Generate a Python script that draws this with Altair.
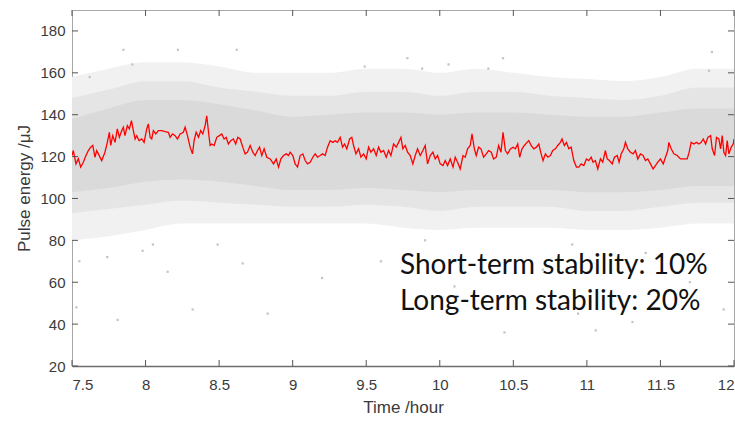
import altair as alt
import pandas as pd

# ---- red moving-average line (time in hours, pulse energy in uJ) ----
line_t = [7.500, 7.509, 7.527, 7.543, 7.559, 7.577, 7.595, 7.611, 7.627, 7.641, 7.656, 7.668, 7.679, 7.702,
          7.724, 7.740, 7.754, 7.763, 7.777, 7.793, 7.808, 7.822, 7.838, 7.849, 7.860, 7.876, 7.890, 7.904,
          7.917, 7.929, 7.940, 7.956, 7.974, 7.990, 8.008, 8.019, 8.031, 8.042, 8.053, 8.069, 8.087, 8.110,
          8.133, 8.155, 8.167, 8.183, 8.201, 8.217, 8.235, 8.257, 8.269, 8.285, 8.303, 8.319, 8.330, 8.344,
          8.360, 8.375, 8.389, 8.405, 8.416, 8.428, 8.439, 8.450, 8.466, 8.484, 8.502, 8.518, 8.534, 8.548,
          8.563, 8.579, 8.597, 8.613, 8.627, 8.643, 8.661, 8.677, 8.693, 8.711, 8.729, 8.745, 8.761, 8.775,
          8.790, 8.806, 8.824, 8.847, 8.870, 8.888, 8.904, 8.920, 8.938, 8.956, 8.972, 8.983,
          9.001, 9.017, 9.033, 9.051, 9.069, 9.085, 9.101, 9.119, 9.137, 9.153, 9.169, 9.187, 9.203, 9.221,
          9.237, 9.255, 9.273, 9.289, 9.305, 9.323, 9.339, 9.353, 9.368, 9.387, 9.402, 9.414, 9.430, 9.448,
          9.464, 9.482, 9.500, 9.516, 9.532, 9.550, 9.568, 9.584, 9.600, 9.618, 9.636, 9.652, 9.668, 9.686,
          9.704, 9.720, 9.736, 9.749, 9.765, 9.781, 9.799, 9.817, 9.833, 9.849, 9.867, 9.885, 9.901, 9.917,
          9.935, 9.953, 9.969, 9.985, 10.003, 10.022, 10.037, 10.053, 10.071, 10.090, 10.105, 10.121, 10.139,
          10.158, 10.173, 10.189, 10.207, 10.219, 10.235, 10.248, 10.264, 10.280, 10.298, 10.316, 10.332,
          10.350, 10.366, 10.384, 10.400, 10.416, 10.430, 10.446, 10.461, 10.480,
          10.498, 10.514, 10.530, 10.543, 10.559, 10.575, 10.593, 10.605, 10.621, 10.639, 10.657, 10.673,
          10.689, 10.702, 10.718, 10.734, 10.752, 10.768, 10.786, 10.802, 10.820, 10.831, 10.847, 10.861,
          10.877, 10.893, 10.911, 10.929, 10.945, 10.961, 10.979, 10.997, 11.013, 11.029, 11.042, 11.058,
          11.074, 11.092, 11.108, 11.126, 11.138, 11.153, 11.172, 11.187, 11.206, 11.219, 11.233, 11.251,
          11.262, 11.278, 11.296, 11.314, 11.330, 11.346, 11.364, 11.382, 11.398, 11.414, 11.432, 11.450,
          11.466, 11.482, 11.500, 11.519, 11.534, 11.550, 11.557, 11.573, 11.591, 11.614, 11.636, 11.659,
          11.682, 11.695, 11.709, 11.727, 11.745, 11.761, 11.777, 11.791, 11.807, 11.822, 11.841, 11.852,
          11.868, 11.881, 11.897, 11.909, 11.920, 11.931, 11.943, 11.954, 11.965, 11.981, 11.995, 12.000]
line_e = [120.5, 122.9, 116.5, 119.0, 115.0, 117.3, 120.5, 122.9, 124.5, 125.3, 119.7, 122.9, 121.3, 118.1,
          122.1, 126.8, 131.6, 125.3, 130.0, 126.8, 133.2, 129.2, 132.4, 134.0, 130.0, 134.8, 133.2, 137.2,
          132.4, 128.4, 130.0, 127.6, 128.4, 126.8, 133.2, 135.6, 129.2, 128.4, 132.4, 130.8, 132.4, 132.4,
          131.9, 131.6, 129.2, 130.8, 130.0, 128.4, 130.8, 131.6, 134.0, 130.0, 124.5, 121.3, 127.6, 131.6,
          129.2, 132.4, 130.8, 134.8, 139.5, 131.6, 125.3, 126.0, 125.3, 129.2, 130.0, 130.8, 128.4, 129.2,
          126.0, 127.6, 128.4, 126.0, 129.2, 128.4, 124.5, 121.3, 122.1, 125.3, 122.1, 120.5, 122.9, 124.5,
          120.5, 123.7, 119.7, 118.9, 116.5, 118.9, 115.0, 118.9, 120.5, 121.3, 120.5, 122.1,
          120.5, 116.5, 115.0, 120.5, 121.3, 118.1, 116.5, 117.3, 119.7, 121.3, 119.7, 120.5, 121.3, 120.5,
          124.5, 127.6, 126.8, 127.6, 126.8, 129.2, 124.5, 126.0, 123.7, 128.4, 129.2, 125.3, 121.3, 123.7,
          119.7, 121.3, 118.9, 124.5, 122.1, 123.7, 120.5, 124.5, 122.1, 122.9, 119.7, 122.9, 120.5, 126.0,
          124.5, 126.8, 129.2, 123.7, 125.3, 122.1, 120.5, 116.5, 120.5, 123.7, 120.5, 122.9, 125.3, 116.5,
          120.5, 122.1, 118.9, 120.5, 116.5, 115.7, 118.1, 115.7, 118.9, 115.0, 119.7, 117.3, 114.1,
          120.5, 119.7, 123.7, 125.3, 130.8, 123.7, 120.5, 124.5, 123.7, 119.7, 121.3, 122.9,
          122.1, 118.9, 119.7, 125.3, 122.1, 131.6, 122.9, 121.3, 123.7,
          124.5, 123.7, 126.0, 119.7, 123.7, 125.3, 126.8, 127.6, 125.3, 123.7, 124.5, 126.0,
          121.3, 118.1, 121.3, 119.7, 120.5, 122.9, 123.7, 125.3, 126.8, 128.4, 125.3, 126.8,
          123.7, 124.5, 118.1, 115.0, 115.0, 116.5, 115.7, 118.9, 118.1, 119.7, 117.3, 118.1,
          114.1, 118.9, 117.3, 122.9, 118.9, 118.1, 116.5, 119.7, 120.5, 117.3, 121.3, 123.7,
          126.8, 123.7, 122.1, 121.3, 122.9, 118.9, 121.3, 120.5, 118.1, 118.9, 116.5, 114.1,
          115.7, 117.3, 118.9, 116.5, 119.7, 122.9, 126.8, 123.7, 121.3, 120.5, 118.9, 118.9,
          118.9, 122.1, 126.8, 126.0, 126.8, 126.0, 126.8, 128.4, 126.0, 129.2, 130.0, 123.7,
          120.5, 129.2, 128.4, 123.7, 130.0, 122.1, 120.5, 127.6, 121.3, 124.5, 126.0, 128.4]

# ---- grey shot-to-shot cloud: envelopes of the sparse halo, the mid zone and the dense core ----
band_t = [7.5, 7.75, 8.0, 8.25, 8.5, 8.75, 9.0, 9.25, 9.5, 9.75, 10.0, 10.25, 10.5, 10.75, 11.0, 11.25, 11.5, 11.75, 12.0]
halo_lo = [80, 82, 85, 88, 88, 88, 88, 88, 88, 86, 85, 86, 86, 86, 85, 85, 86, 88, 88]
mid_lo = [93, 95, 97, 99, 98, 97, 96, 96, 97, 96, 94, 96, 96, 96, 94, 94, 96, 98, 98]
core_lo = [103, 105, 108, 109, 108, 106, 104, 104, 105, 104, 103, 104, 104, 104, 103, 103, 104, 106, 106]
core_hi = [138, 143, 147, 147, 145, 142, 139, 140, 141, 141, 140, 141, 141, 140, 139, 139, 141, 143, 143]
mid_hi = [148, 152, 156, 156, 153, 151, 149, 149, 151, 151, 149, 151, 151, 149, 148, 147, 149, 153, 153]
halo_hi = [158, 162, 165, 165, 163, 160, 160, 160, 162, 162, 160, 162, 160, 158, 157, 156, 158, 162, 162]

# ---- isolated outlier shots ----
out_t = [7.85, 8.22, 7.91, 7.62, 8.62, 7.53, 7.81, 8.15, 8.32, 7.55, 7.98, 7.74, 8.05, 8.49, 8.66, 8.83,
         10.44, 11.06, 11.31, 10.94, 11.93, 9.78, 9.49, 10.06, 9.88, 10.43, 11.85, 10.33, 11.83,
         9.20, 9.60, 10.10, 10.70, 11.40, 11.70, 9.90, 10.90]
out_e = [171, 171, 164, 158, 171, 48, 42, 65, 47, 70, 75, 72, 78, 78, 69, 45,
         36, 37, 41, 45, 47, 167, 163, 164, 162, 167, 170, 162, 161,
         62, 70, 58, 66, 74, 60, 80, 78]

x_ticks = [7.5, 8, 8.5, 9, 9.5, 10, 10.5, 11, 11.5, 12]
y_ticks = [20, 40, 60, 80, 100, 120, 140, 160, 180]
note_1 = "Short-term stability: 10%"
note_2 = "Long-term stability: 20%"

W, H = 662, 356
TL = 6

line_df = pd.DataFrame({"t": line_t, "e": line_e})
band_df = pd.DataFrame({"t": band_t, "hlo": halo_lo, "mlo": mid_lo, "clo": core_lo,
                        "chi": core_hi, "mhi": mid_hi, "hhi": halo_hi})
out_df = pd.DataFrame({"t": out_t, "e": out_e})
xt_df = pd.DataFrame({"v": x_ticks})
yt_df = pd.DataFrame({"v": y_ticks})

xs = alt.Scale(domain=[7.5, 12], nice=False, zero=False)
ys = alt.Scale(domain=[20, 190], nice=False, zero=False)

halo = alt.Chart(band_df).mark_area(color="#f1f1f1", interpolate="monotone", clip=True).encode(
    x=alt.X("t:Q", scale=xs, axis=alt.Axis(values=x_ticks, format="~g", title="Time /hour")),
    y=alt.Y("hlo:Q", scale=ys, axis=alt.Axis(values=y_ticks, format="d", title="Pulse energy /\u03bcJ")),
    y2="hhi:Q")
mid = alt.Chart(band_df).mark_area(color="#e5e5e5", interpolate="monotone", clip=True).encode(
    x=alt.X("t:Q", scale=xs), y=alt.Y("mlo:Q", scale=ys), y2="mhi:Q")
core = alt.Chart(band_df).mark_area(color="#dadada", interpolate="monotone", clip=True).encode(
    x=alt.X("t:Q", scale=xs), y=alt.Y("clo:Q", scale=ys), y2="chi:Q")
pts = alt.Chart(out_df).mark_square(color="#c4c4c4", size=5, opacity=1, clip=True).encode(
    x=alt.X("t:Q", scale=xs), y=alt.Y("e:Q", scale=ys))
red = alt.Chart(line_df).mark_line(color="#ff0000", strokeWidth=1.3, clip=True).encode(
    x=alt.X("t:Q", scale=xs), y=alt.Y("e:Q", scale=ys))

tick_col = "#555555"
bt = alt.Chart(xt_df).mark_rule(color=tick_col, strokeWidth=1).encode(
    x=alt.X("v:Q", scale=xs), y=alt.value(H), y2=alt.value(H - TL))
tt = alt.Chart(xt_df).mark_rule(color=tick_col, strokeWidth=1).encode(
    x=alt.X("v:Q", scale=xs), y=alt.value(0), y2=alt.value(TL))
lt = alt.Chart(yt_df).mark_rule(color=tick_col, strokeWidth=1).encode(
    y=alt.Y("v:Q", scale=ys), x=alt.value(0), x2=alt.value(TL))
rt = alt.Chart(yt_df).mark_rule(color=tick_col, strokeWidth=1).encode(
    y=alt.Y("v:Q", scale=ys), x=alt.value(W), x2=alt.value(W - TL))

txt_style = dict(align="left", baseline="alphabetic", font="Lato", fontSize=28, color="#111111")
txt1 = alt.Chart(pd.DataFrame({"s": [note_1]})).mark_text(**txt_style).encode(
    text="s:N", x=alt.value(328), y=alt.value(264))
txt2 = alt.Chart(pd.DataFrame({"s": [note_2]})).mark_text(**txt_style).encode(
    text="s:N", x=alt.value(328), y=alt.value(300))

chart = alt.layer(halo, mid, core, pts, red, bt, tt, lt, rt, txt1, txt2).properties(
    width=W, height=H,
    autosize=alt.AutoSizeParams(type="none"),
    padding={"left": 72, "top": 10, "right": 1, "bottom": 55},
).configure_view(stroke="#a8a8a8", strokeWidth=1).configure_axis(
    grid=False, ticks=False, labelFont="Liberation Sans", labelFontSize=15, labelColor="#3a3a3a",
    titleFont="Liberation Sans", titleFontSize=17, titleColor="#3a3a3a", titleFontWeight="normal",
    domainColor="#a8a8a8",
).configure_axisX(labelPadding=11, titlePadding=7, domainColor="#6e6e6e", domainWidth=1.5
).configure_axisY(labelPadding=7, titlePadding=6)

chart.save("out.html", embed_options={"renderer": "svg", "actions": False})
